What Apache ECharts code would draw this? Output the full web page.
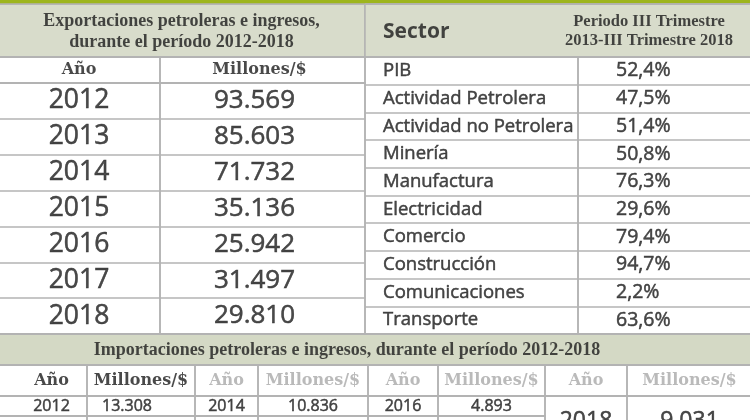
<!DOCTYPE html>
<html>
<head>
<meta charset="utf-8">
<script src="https://cdn.jsdelivr.net/npm/echarts@6/dist/echarts.min.js"></script>
<style>
  html, body { margin: 0; padding: 0; background: #fff; }
  #chart { width: 750px; height: 420px; }
</style>
</head>
<body>
<div id="chart"></div>
<script>
// --- data ---
const expTitle = 'Exportaciones petroleras e ingresos,\ndurante el período 2012-2018';
const expHeads = ['Año', 'Millones/$'];
const expYears = ['2012', '2013', '2014', '2015', '2016', '2017', '2018'];
const expValues = [93569, 85603, 71732, 35136, 25942, 31497, 29810];

const sectorHead = 'Sector';
const periodHead = 'Periodo III Trimestre\n2013-III Trimestre 2018';
const sectors = ['PIB', 'Actividad Petrolera', 'Actividad no Petrolera', 'Minería', 'Manufactura',
  'Electricidad', 'Comercio', 'Construcción', 'Comunicaciones', 'Transporte'];
const sectorPct = [52.4, 47.5, 51.4, 50.8, 76.3, 29.6, 79.4, 94.7, 2.2, 63.6];

const impTitle = 'Importaciones petroleras e ingresos, durante el período 2012-2018';
const impYears = ['2012', '2014', '2016', '2018'];
const impValues = [13308, 10836, 4893, 9031];

// --- style ---
const LINE = '#b3b3b3';
const HDR = '#d8dccb';
const BAND = '#d4d9c5';
const OLIVE = '#9db51d';
const INK = '#1c1c1c';
const GREY = '#a9a9a9';
const SERIF = '"Liberation Serif", serif';
const SLAB = '"DejaVu Serif", serif';
const SANS = '"Open Sans", sans-serif';

const fmtNum = n => String(n).replace(/\B(?=(\d{3})+(?!\d))/g, '.');
const fmtPct = v => v.toFixed(1).replace('.', ',') + '%';

const grids = [], xAxes = [], yAxes = [], series = [];

// one table column = one grid, rows on a category axis
function addCol(o) {
  const gi = grids.length;
  const [l, t, w, h] = o.box;
  const rows = o.rows || o.cells.length;
  grids.push({
    left: l, top: t, width: w, height: h, show: true, outerBoundsMode: 'none',
    backgroundColor: o.bg || 'transparent',
    borderColor: LINE, borderWidth: o.border === false ? 0 : 1.5
  });
  xAxes.push({ type: 'category', gridIndex: gi, data: ['c'], axisLine: { show: false },
    axisTick: { show: false }, axisLabel: { show: false }, splitLine: { show: false } });
  const keys = [];
  for (let i = 0; i < rows; i++) keys.push('r' + i);
  yAxes.push({ type: 'category', gridIndex: gi, data: keys, inverse: true,
    axisLine: { show: false }, axisTick: { show: false }, axisLabel: { show: false },
    splitLine: { show: o.rowLines !== false, lineStyle: { color: LINE, width: 1.5 } } });
  const left = o.align === 'left';
  const color = o.color || INK;
  series.push({
    type: 'scatter', xAxisIndex: gi, yAxisIndex: gi, silent: true,
    symbolSize: 1, itemStyle: { color: 'transparent' },
    data: o.cells.map((c, i) => [0, i, c]),
    label: {
      show: true, position: 'inside',
      formatter: p => p.value[2],
      align: left ? 'left' : 'center', verticalAlign: 'middle',
      offset: [left ? -w / 2 + o.pad : (o.dx || 0), o.dy || 0],
      color, fontFamily: o.font, fontSize: o.size,
      fontWeight: o.bold ? 'bold' : 'normal', lineHeight: o.lh || o.size * 1.2,
      textBorderColor: o.bold ? 'transparent' : color, textBorderWidth: o.bold ? 0 : 0.5
    }
  });
}

// header band
addCol({ box: [-2, 4, 367, 53], cells: [expTitle], bg: HDR, font: SERIF, size: 18, bold: true, lh: 21, dy: 1 });
addCol({ box: [365, 4, 387, 53], cells: [''], bg: HDR });
addCol({ box: [365, 4, 213, 53], cells: [sectorHead], border: false, align: 'left', pad: 18, font: SANS, size: 21, bold: true, dy: 2 });
addCol({ box: [578, 4, 174, 53], cells: [periodHead], border: false, font: SERIF, size: 16.5, bold: true, lh: 19, dx: -16, dy: 1 });

// exports table
addCol({ box: [-2, 57, 162, 26], cells: [expHeads[0]], font: SLAB, size: 16, bold: true });
addCol({ box: [160, 57, 205, 26], cells: [expHeads[1]], font: SLAB, size: 16, bold: true, dx: -3 });
addCol({ box: [-2, 83, 162, 251], cells: expYears, font: SANS, size: 26.5 });
addCol({ box: [160, 83, 205, 251], cells: expValues.map(fmtNum), font: SANS, size: 26, dx: -8 });

// sector table
addCol({ box: [365, 57, 213, 277], cells: sectors, align: 'left', pad: 18, font: SANS, size: 18.5 });
addCol({ box: [578, 57, 174, 277], cells: sectorPct.map(fmtPct), align: 'left', pad: 38, font: SANS, size: 19.5 });

// imports band + table
addCol({ box: [-2, 334, 754, 31], cells: [impTitle], bg: BAND, font: SERIF, size: 18, bold: true, dx: -28, dy: 1 });
const impCols = [-2, 87, 195, 258, 368, 438, 545, 627, 752];
for (let c = 0; c < 8; c++) {
  const l = impCols[c], w = impCols[c + 1] - impCols[c];
  const isYear = c % 2 === 0;
  const k = Math.floor(c / 2);
  addCol({ box: [l, 365, w, 31], cells: [expHeads[isYear ? 0 : 1]], font: SLAB, size: 16, bold: true,
    color: c < 2 ? INK : GREY, dx: c === 0 ? 9 : 0 });
  const txt = isYear ? impYears[k] : fmtNum(impValues[k]);
  if (k < 3) {
    addCol({ box: [l, 396, w, 20], cells: [txt], font: SANS, size: 16,
      dx: c === 0 ? 9 : (c === 1 ? -14 : 0) });
    addCol({ box: [l, 416, w, 10], cells: [''] });
  } else {
    // merged cell spanning two rows, cut by the picture edge
    addCol({ box: [l, 396, w, 26], cells: [txt], font: SANS, size: 23, dy: 12 });
  }
}

// olive strip on top
addCol({ box: [-2, -2, 754, 6], cells: [''], bg: OLIVE, border: false, rowLines: false });

const chart = echarts.init(document.getElementById('chart'), null, { renderer: 'canvas' });
chart.setOption({
  backgroundColor: '#fff',
  animation: false,
  grid: grids, xAxis: xAxes, yAxis: yAxes, series
});
</script>
</body>
</html>
